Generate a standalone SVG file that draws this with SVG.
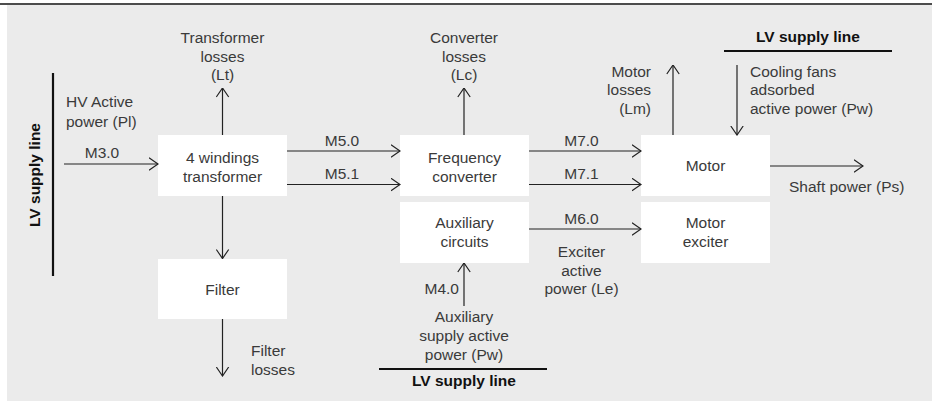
<svg xmlns="http://www.w3.org/2000/svg" width="938" height="401" viewBox="0 0 938 401">
<style>
text{font-family:"Liberation Sans",Arial,sans-serif;font-size:15.5px;fill:#3a3a3a}
.b{font-weight:bold;fill:#111}
.m{text-anchor:middle}
.e{text-anchor:end}
.box{fill:#fff}
.ln{stroke:#222;stroke-width:1.2;fill:none}
.bar{stroke:#111;stroke-width:2.2;fill:none}
</style>
<defs>
<marker id="ah" markerUnits="userSpaceOnUse" viewBox="0 0 10 14" refX="9.5" refY="7" markerWidth="10" markerHeight="14" orient="auto">
<path d="M0.5,0.8 L9.5,7 L0.5,13.2" fill="none" stroke="#222" stroke-width="1.2"/>
</marker>
</defs>
<rect x="7" y="5" width="925" height="396" fill="#ebebeb"/>
<line x1="0" y1="4" x2="932" y2="4" stroke="#111" stroke-width="1.5"/>

<g id="lv-left">
<line class="bar" x1="53" y1="73" x2="53" y2="276"/>
<text class="b m" transform="translate(40,175) rotate(-90)">LV supply line</text>
</g>
<g id="lv-top">
<line class="bar" x1="724" y1="51" x2="892" y2="51"/>
<text class="b m" x="808" y="42">LV supply line</text>
</g>
<g id="lv-bottom">
<line class="bar" x1="379" y1="369" x2="547" y2="369"/>
<text class="b m" x="464" y="386">LV supply line</text>
</g>

<g id="transformer">
<rect class="box" x="158" y="135" width="129" height="61"/>
<text class="m" x="222.5" y="163">4 windings</text>
<text class="m" x="222.5" y="182">transformer</text>
</g>
<g id="filter">
<rect class="box" x="158" y="259" width="129" height="60"/>
<text class="m" x="222.5" y="295">Filter</text>
</g>
<g id="converter">
<rect class="box" x="400" y="135" width="129" height="61"/>
<text class="m" x="464.5" y="163">Frequency</text>
<text class="m" x="464.5" y="182">converter</text>
</g>
<g id="auxiliary">
<rect class="box" x="400" y="202" width="129" height="61"/>
<text class="m" x="464.5" y="228">Auxiliary</text>
<text class="m" x="464.5" y="247">circuits</text>
</g>
<g id="motor">
<rect class="box" x="641" y="135" width="129" height="61"/>
<text class="m" x="705.5" y="171">Motor</text>
</g>
<g id="exciter">
<rect class="box" x="641" y="202" width="129" height="61"/>
<text class="m" x="705.5" y="228">Motor</text>
<text class="m" x="705.5" y="247">exciter</text>
</g>

<g id="connectors">
<line class="ln" x1="64" y1="164" x2="158" y2="164" marker-end="url(#ah)"/>
<line class="ln" x1="222.5" y1="135" x2="222.5" y2="88" marker-end="url(#ah)"/>
<line class="ln" x1="222.5" y1="196" x2="222.5" y2="258.5" marker-end="url(#ah)"/>
<line class="ln" x1="222.5" y1="319" x2="222.5" y2="376" marker-end="url(#ah)"/>
<line class="ln" x1="287" y1="151" x2="400" y2="151" marker-end="url(#ah)"/>
<line class="ln" x1="287" y1="184.5" x2="400" y2="184.5" marker-end="url(#ah)"/>
<line class="ln" x1="464" y1="135" x2="464" y2="88" marker-end="url(#ah)"/>
<line class="ln" x1="529" y1="151" x2="641" y2="151" marker-end="url(#ah)"/>
<line class="ln" x1="529" y1="184.5" x2="641" y2="184.5" marker-end="url(#ah)"/>
<line class="ln" x1="529" y1="229" x2="641" y2="229" marker-end="url(#ah)"/>
<line class="ln" x1="464" y1="306" x2="464" y2="263" marker-end="url(#ah)"/>
<line class="ln" x1="673" y1="135" x2="673" y2="65" marker-end="url(#ah)"/>
<line class="ln" x1="737" y1="65" x2="737" y2="135" marker-end="url(#ah)"/>
<line class="ln" x1="770" y1="166" x2="863" y2="166" marker-end="url(#ah)"/>
</g>

<g id="labels">
<text x="66" y="107">HV Active</text>
<text x="66" y="126.5">power (Pl)</text>
<text class="m" x="102" y="158">M3.0</text>
<text class="m" x="222.5" y="43">Transformer</text>
<text class="m" x="222.5" y="61.5">losses</text>
<text class="m" x="222.5" y="80">(Lt)</text>
<text x="251" y="356">Filter</text>
<text x="251" y="375">losses</text>
<text class="m" x="342" y="145.5">M5.0</text>
<text class="m" x="342" y="179">M5.1</text>
<text class="m" x="464" y="43">Converter</text>
<text class="m" x="464" y="61.5">losses</text>
<text class="m" x="464" y="80">(Lc)</text>
<text class="m" x="581.5" y="145.5">M7.0</text>
<text class="m" x="581.5" y="179">M7.1</text>
<text class="m" x="581.5" y="223.5">M6.0</text>
<text class="m" x="581.5" y="257">Exciter</text>
<text class="m" x="581.5" y="275.5">active</text>
<text class="m" x="581.5" y="294">power (Le)</text>
<text class="e" x="459" y="293.5">M4.0</text>
<text class="m" x="464" y="322">Auxiliary</text>
<text class="m" x="464" y="341">supply active</text>
<text class="m" x="464" y="360">power (Pw)</text>
<text class="e" x="651" y="76.5">Motor</text>
<text class="e" x="651" y="95">losses</text>
<text class="e" x="651" y="113.5">(Lm)</text>
<text x="750" y="76.5">Cooling fans</text>
<text x="750" y="95">adsorbed</text>
<text x="750" y="113.5">active power (Pw)</text>
<text x="789" y="192">Shaft power (Ps)</text>
</g>
</svg>
